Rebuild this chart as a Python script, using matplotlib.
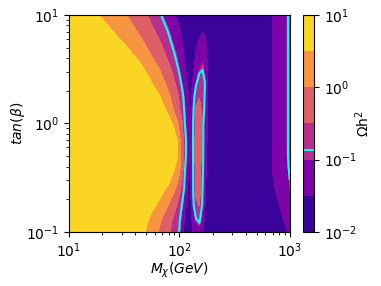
import numpy as np
import matplotlib
matplotlib.use("Agg")
import matplotlib.pyplot as plt
from matplotlib.colors import LogNorm

# Dark matter mass grid (GeV)
mass = np.array([10, 17.8, 23.7, 31.6, 39.8, 44.7, 56.2, 70.8, 79.4, 89.1, 100, 105.9, 112.2,
                 118.9, 125.9, 133.4, 141.3, 151.4, 162.2, 171.8, 182.0, 316, 631, 708, 933, 1000])
# tan(beta) grid
tan_beta = np.array([0.1, 0.126, 0.178, 0.251, 0.355, 0.501, 0.708, 1.0,
                     1.334, 1.778, 2.371, 3.162, 4.217, 5.623, 7.499, 10.0])

# log10(Omega h^2), one row per tan(beta)
log_omega = np.array([
    [0.95, 0.95, 0.95, 0.95, 0.815, 0.605, 0.185, -0.233, -0.442, -0.68, -0.952, -1.355, -1.758,
     -1.8, -1.8, -1.4, -1.3, -1.2, -1.55, -1.8, -1.8, -1.85, -1.8, -1.8, -1.55, -1.35],
    [0.95, 0.95, 0.95, 0.95, 0.926, 0.719, 0.306, -0.124, -0.362, -0.616, -0.892, -1.225, -1.607,
     -1.8, -1.8, -1.35, -1.0, -0.88, -1.35, -1.75, -1.8, -1.85, -1.8, -1.75, -1.45, -1.2],
    [0.95, 0.95, 0.95, 0.95, 0.95, 0.95, 0.616, 0.202, -0.007, -0.336, -0.719, -0.952, -1.355,
     -1.758, -1.8, -1.0, -0.55, -0.48, -1.1, -1.6, -1.8, -1.85, -1.8, -1.65, -1.35, -1.1],
    [0.95, 0.95, 0.95, 0.95, 0.95, 0.95, 0.95, 0.596, 0.343, 0.091, -0.372, -0.696, -1.078,
     -1.518, -1.8, -0.9, -0.42, -0.38, -0.95, -1.52, -1.8, -1.85, -1.75, -1.55, -1.25, -1.0],
    [0.95, 0.95, 0.95, 0.95, 0.95, 0.95, 0.95, 0.95, 0.861, 0.451, 0.041, -0.417, -0.93,
     -1.403, -1.8, -0.9, -0.38, -0.32, -0.88, -1.4, -1.8, -1.85, -1.72, -1.47, -1.18, -0.85],
    [0.95, 0.95, 0.95, 0.95, 0.95, 0.95, 0.95, 0.95, 0.95, 0.847, 0.153, -0.304, -0.805,
     -1.287, -1.771, -0.88, -0.35, -0.3, -0.85, -1.35, -1.75, -1.85, -1.7, -1.45, -1.15, -0.7],
    [0.95, 0.95, 0.95, 0.95, 0.95, 0.95, 0.95, 0.95, 0.95, 0.743, 0.068, -0.345, -0.805,
     -1.287, -1.771, -0.88, -0.35, -0.3, -0.85, -1.3, -1.75, -1.85, -1.7, -1.45, -1.15, -0.7],
    [0.95, 0.95, 0.95, 0.95, 0.95, 0.95, 0.95, 0.95, 0.708, 0.292, -0.179, -0.476, -0.93,
     -1.302, -1.683, -0.9, -0.4, -0.3, -0.85, -1.3, -1.75, -1.85, -1.7, -1.45, -1.15, -0.7],
    [0.95, 0.95, 0.95, 0.95, 0.95, 0.95, 0.95, 0.627, 0.293, -0.049, -0.459, -0.733, -1.036,
     -1.358, -1.68, -1.0, -0.45, -0.35, -0.7, -1.25, -1.75, -1.85, -1.7, -1.45, -1.15, -0.7],
    [0.95, 0.95, 0.95, 0.95, 0.95, 0.95, 0.774, 0.302, 0.066, -0.24, -0.603, -0.836, -1.122,
     -1.437, -1.752, -1.15, -0.7, -0.53, -0.6, -1.2, -1.75, -1.85, -1.7, -1.45, -1.15, -0.7],
    [0.95, 0.95, 0.95, 0.95, 0.95, 0.905, 0.492, 0.079, -0.172, -0.45, -0.813, -1.032, -1.286,
     -1.541, -1.8, -1.4, -1.0, -0.75, -0.7, -1.0, -1.75, -1.85, -1.7, -1.45, -1.15, -0.7],
    [0.95, 0.95, 0.95, 0.95, 0.765, 0.581, 0.213, -0.183, -0.4, -0.672, -1.015, -1.232, -1.448,
     -1.664, -1.8, -1.6, -1.3, -1.05, -0.94, -1.2, -1.75, -1.85, -1.7, -1.45, -1.15, -0.7],
    [0.95, 0.95, 0.95, 0.756, 0.444, 0.288, -0.03, -0.406, -0.625, -0.875, -1.21, -1.387, -1.564,
     -1.741, -1.8, -1.75, -1.45, -1.2, -1.1, -1.3, -1.8, -1.85, -1.7, -1.45, -1.15, -0.7],
    [0.95, 0.95, 0.762, 0.441, 0.185, 0.056, -0.257, -0.61, -0.822, -1.077, -1.367, -1.512, -1.657,
     -1.8, -1.8, -1.8, -1.65, -1.45, -1.35, -1.45, -1.8, -1.85, -1.7, -1.45, -1.15, -0.7],
    [0.95, 0.768, 0.491, 0.215, -0.009, -0.16, -0.461, -0.802, -0.997, -1.236, -1.476, -1.596, -1.716,
     -1.8, -1.8, -1.8, -1.8, -1.7, -1.6, -1.65, -1.8, -1.85, -1.7, -1.45, -1.15, -0.7],
    [0.95, 0.529, 0.286, 0.043, -0.215, -0.354, -0.655, -1.01, -1.235, -1.46, -1.684, -1.8, -1.8,
     -1.8, -1.8, -1.8, -1.8, -1.8, -1.8, -1.8, -1.8, -1.85, -1.7, -1.45, -1.15, -0.7],
])

levels = np.logspace(-2, 1, 7)
relic = 0.12  # observed relic density

omega = 10 ** log_omega
M, T = np.meshgrid(mass, tan_beta)

fig = plt.figure(figsize=(3.81, 2.86), dpi=100)
ax = fig.add_axes([0.181, 0.189, 0.580, 0.759])
cax = fig.add_axes([0.796, 0.189, 0.029, 0.759])

cf = ax.contourf(M, T, omega, levels=levels, norm=LogNorm(vmin=1e-2, vmax=10), cmap='plasma')
cs = ax.contour(M, T, omega, levels=[relic], colors='cyan', linewidths=1.5)
ax.set_xscale('log')
ax.set_yscale('log')
ax.set_xlim(10, 1000)
ax.set_ylim(0.1, 10)
ax.set_xlabel(r'$M_{\chi}(GeV)$', fontsize=10, labelpad=0)
ax.set_ylabel(r'$tan(\beta)$', fontsize=10, labelpad=-1)
ax.tick_params(labelsize=10)

cbar = fig.colorbar(cf, cax=cax)
cbar.add_lines(cs)
cbar.set_ticks([1e-2, 1e-1, 1e0, 1e1])
cbar.ax.minorticks_off()
cbar.ax.tick_params(labelsize=10)
cbar.set_label(r'$\Omega$h$^2$', fontsize=10, labelpad=-3)

fig.savefig('out.png', dpi=100)
